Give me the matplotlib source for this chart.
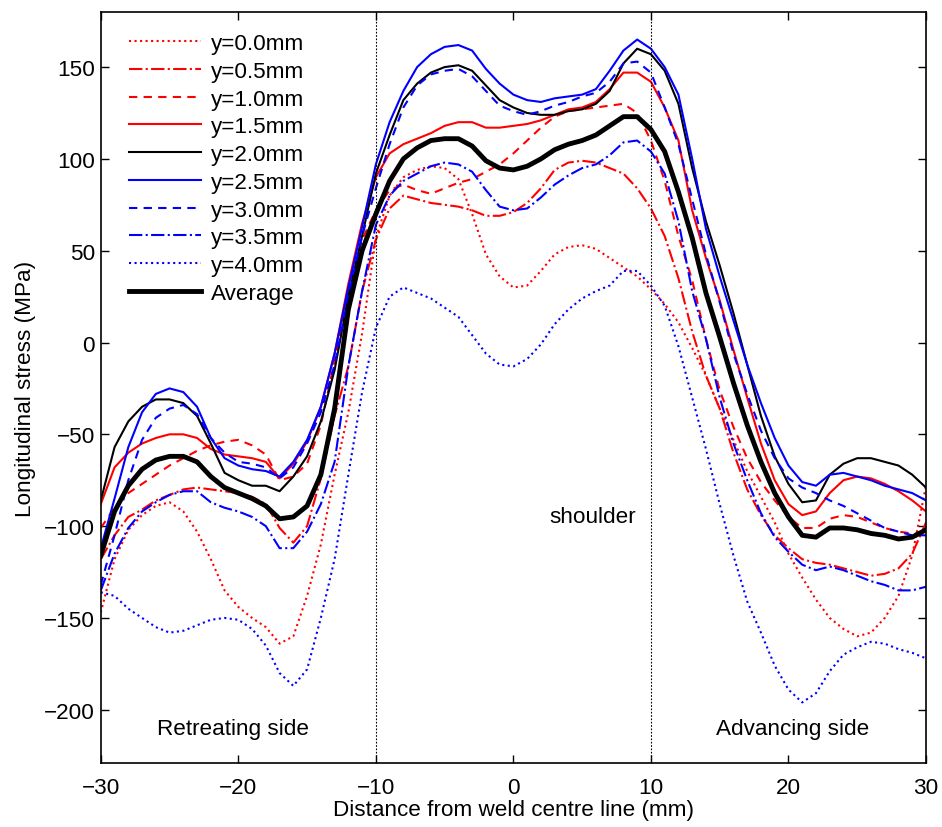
import numpy as np
import matplotlib
matplotlib.use("Agg")
import matplotlib.pyplot as plt

plt.rcParams['font.family'] = ['Liberation Sans', 'DejaVu Sans']

# position across the weld (mm), 1 mm step
x_mm = list(range(-30, 31))

# longitudinal stress (MPa), one list per depth
s_y00 = [-147, -118, -102, -94, -89, -87, -92, -103, -118, -135, -144, -150, -155, -164, -160,
         -138, -110, -72, -38, 5, 57, 80, 90, 94, 96, 95, 89, 70, 48, 36, 30, 31, 39, 48, 52,
         53, 51, 46, 41, 36, 29, 21, 11, -3, -18, -36, -53, -70, -84, -98, -115, -128, -140, -150,
         -156, -160, -158, -150, -138, -116, -78]
s_y05 = [-118, -105, -95, -91, -86, -83, -80, -79, -80, -81, -82, -84, -88, -101, -109,
         -100, -74, -40, -13, 28, 56, 73, 80, 78, 76, 75, 74, 72, 69, 69, 71, 76, 84, 94, 98,
         99, 98, 95, 92, 84, 73, 58, 35, 6, -18, -36, -60, -80, -94, -105, -112, -118, -120, -121,
         -123, -125, -127, -126, -123, -115, -98]
s_y10 = [-101, -90, -82, -77, -72, -67, -63, -59, -56, -54, -53, -56, -61, -75, -73,
         -66, -45, -10, 28, 56, 72, 83, 86, 83, 81, 84, 87, 89, 93, 97, 103, 110, 117, 123, 126,
         127, 128, 129, 130, 125, 110, 88, 58, 34, 2, -26, -46, -63, -76, -86, -95, -101, -101, -96,
         -94, -95, -98, -101, -103, -104, -104]
s_y15 = [-88, -68, -60, -55, -52, -50, -50, -52, -58, -61, -62, -63, -65, -74, -66,
         -54, -35, -6, 32, 65, 90, 103, 108, 111, 114, 118, 120, 120, 117, 117, 118, 119, 121, 124, 127,
         128, 131, 138, 147, 147, 142, 128, 110, 72, 46, 23, -4, -30, -55, -75, -88, -94, -92, -82,
         -75, -73, -74, -77, -81, -86, -92]
s_y20 = [-86, -57, -43, -35, -31, -31, -33, -40, -55, -71, -75, -78, -78, -81, -73,
         -62, -43, -15, 25, 58, 92, 113, 132, 141, 147, 150, 151, 148, 140, 132, 128, 125, 124, 124, 126,
         127, 130, 137, 152, 160, 157, 148, 130, 95, 66, 42, 16, -12, -40, -62, -77, -87, -86, -72,
         -66, -63, -63, -65, -67, -72, -79]
s_y25 = [-112, -85, -57, -38, -28, -25, -27, -35, -52, -63, -67, -69, -70, -73, -65,
         -53, -35, -6, 30, 63, 97, 120, 137, 150, 157, 161, 162, 159, 149, 141, 135, 132, 131, 133, 134,
         135, 138, 148, 159, 165, 160, 150, 135, 100, 62, 36, 12, -12, -33, -52, -67, -76, -78, -72,
         -71, -73, -75, -78, -80, -82, -86]
s_y30 = [-132, -105, -75, -53, -41, -36, -34, -39, -52, -60, -65, -66, -68, -74, -68,
         -55, -38, -12, 25, 58, 84, 108, 128, 140, 146, 148, 149, 145, 137, 129, 126, 124, 126, 129, 131,
         134, 136, 142, 152, 153, 147, 128, 108, 78, 48, 22, -6, -28, -48, -63, -74, -79, -82, -86,
         -89, -93, -97, -101, -103, -105, -105]
s_y35 = [-135, -115, -101, -92, -87, -83, -81, -81, -87, -90, -92, -95, -100, -112, -112,
         -103, -88, -65, -13, 28, 64, 80, 88, 92, 96, 98, 97, 93, 83, 74, 72, 73, 79, 86, 91,
         95, 97, 102, 109, 110, 104, 92, 66, 28, 2, -30, -55, -75, -93, -106, -114, -121, -124, -122,
         -124, -127, -130, -132, -135, -135, -133]
s_y40 = [-136, -138, -145, -150, -155, -158, -157, -154, -151, -150, -151, -156, -165, -180, -187,
         -178, -150, -118, -72, -27, 8, 25, 30, 27, 24, 19, 14, 4, -6, -12, -13, -9, -1, 10, 18,
         24, 28, 31, 39, 39, 31, 20, -2, -30, -58, -88, -116, -141, -158, -176, -189, -196, -191, -179,
         -170, -166, -163, -164, -167, -169, -172]
s_avg = [-116, -92, -78, -69, -64, -62, -62, -65, -73, -79, -82, -85, -89, -96, -95,
         -89, -72, -36, 18, 50, 70, 88, 100, 106, 110, 111, 111, 107, 99, 95, 94, 96, 100, 105, 108,
         110, 113, 118, 123, 123, 116, 104, 82, 57, 27, 3, -22, -45, -65, -82, -95, -105, -106, -101,
         -101, -102, -104, -105, -107, -106, -102]

labels = ['y=0.0mm', 'y=0.5mm', 'y=1.0mm', 'y=1.5mm', 'y=2.0mm',
          'y=2.5mm', 'y=3.0mm', 'y=3.5mm', 'y=4.0mm', 'Average']

fig = plt.figure(figsize=(9.42, 8.28), dpi=100)
ax = fig.add_axes([0.107, 0.0773, 0.876, 0.907])

lw = 1.5
ax.plot(x_mm, s_y00, color='red', ls=':', lw=lw, label=labels[0])
ax.plot(x_mm, s_y05, color='red', ls='-.', lw=lw, label=labels[1])
ax.plot(x_mm, s_y10, color='red', ls=(0, (4, 3)), lw=lw, label=labels[2])
ax.plot(x_mm, s_y15, color='red', ls='-', lw=lw, label=labels[3])
ax.plot(x_mm, s_y20, color='black', ls='-', lw=lw, label=labels[4])
ax.plot(x_mm, s_y25, color='blue', ls='-', lw=lw, label=labels[5])
ax.plot(x_mm, s_y30, color='blue', ls=(0, (4, 3)), lw=lw, label=labels[6])
ax.plot(x_mm, s_y35, color='blue', ls='-.', lw=lw, label=labels[7])
ax.plot(x_mm, s_y40, color='blue', ls=':', lw=lw, label=labels[8])
ax.plot(x_mm, s_avg, color='black', ls='-', lw=3.5, label=labels[9])

# shoulder edges
for xv in (-10, 10):
    ax.axvline(xv, color='black', ls=(0, (1.5, 1.5)), lw=0.8)

fs = 16.2
ax.text(2.6, -95, 'shoulder', fontsize=fs, va='center', ha='left')
ax.text(-25.9, -210, 'Retreating side', fontsize=fs, va='center', ha='left')
ax.text(14.7, -210, 'Advancing side', fontsize=fs, va='center', ha='left')

ax.set_xlim(-30, 30)
ax.set_ylim(-229, 180)
ax.set_xticks(range(-30, 31, 10))
ax.set_yticks(range(-200, 151, 50))
ax.tick_params(direction='in', length=6, width=1, top=True, right=True, labelsize=fs)
ax.tick_params(axis='x', pad=10)
ax.tick_params(axis='y', pad=4)
for sp in ax.spines.values():
    sp.set_linewidth(1.2)

ax.set_xlabel('Distance from weld centre line (mm)', fontsize=fs, labelpad=1)
ax.set_ylabel('Longitudinal stress (MPa)', fontsize=fs, labelpad=6)

ax.legend(loc='upper left', bbox_to_anchor=(0.034, 0.972), frameon=False, fontsize=fs,
          handlelength=3.2, handletextpad=0.45, labelspacing=0.3, borderaxespad=0, borderpad=0)

fig.savefig('out.png', dpi=100)
